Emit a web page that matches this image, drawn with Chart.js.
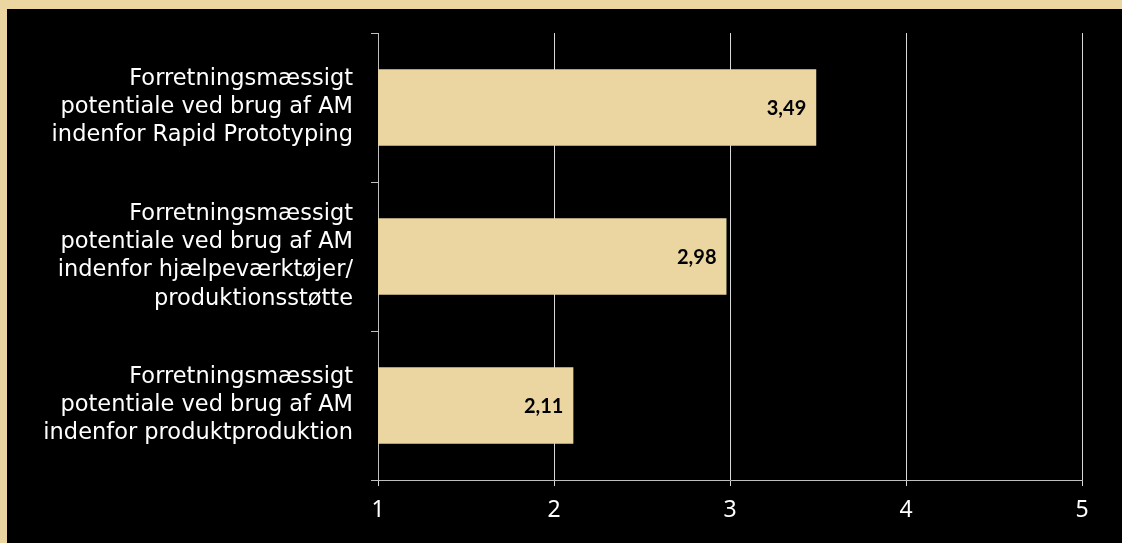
<!DOCTYPE html>
<html>
<head>
<meta charset="utf-8">
<script src="https://cdn.jsdelivr.net/npm/chart.js@4"></script>
<style>
  html, body { margin: 0; padding: 0; background: #ebd6a2; }
  #wrap { position: absolute; left: 7px; top: 9px; width: 1115px; height: 534px; background: #000; }
</style>
</head>
<body>
<div id="wrap"><canvas id="potentiale" width="1115" height="534"></canvas></div>
<script>
//Data
const kategorier = [
  ['Forretningsmæssigt', 'potentiale ved brug af AM', 'indenfor Rapid Prototyping'],
  ['Forretningsmæssigt', 'potentiale ved brug af AM', 'indenfor hjælpeværktøjer/', 'produktionsstøtte'],
  ['Forretningsmæssigt', 'potentiale ved brug af AM', 'indenfor produktproduktion']
];
const vaerdier = [3.49, 2.98, 2.11];
const akseMin = 1;
const akseMax = 5;

const beige = '#ebd6a2';
const skrift = '"DejaVu Sans", "Open Sans", sans-serif';
const skriftTal = '"Noto Sans", "Open Sans", sans-serif';
const skriftFed = 'Lato, "DejaVu Sans", sans-serif';

//Tal inde i soejlerne
const vaerdiLabels = {
  id: 'vaerdiLabels',
  afterDatasetsDraw(chart) {
    const ctx = chart.ctx;
    const meta = chart.getDatasetMeta(0);
    ctx.save();
    ctx.font = 'bold 20px ' + skriftFed;
    ctx.fillStyle = '#000';
    ctx.textAlign = 'right';
    ctx.textBaseline = 'middle';
    meta.data.forEach((bar, i) => {
      const txt = vaerdier[i].toFixed(2).replace('.', ',');
      ctx.fillText(txt, bar.x - 10, bar.y + 1);
    });
    ctx.restore();
  }
};

const potentiale = document.getElementById('potentiale');

let potentiale_OBJ = new Chart(potentiale, {
  type: 'bar',
  data: {
    labels: kategorier,
    datasets: [{
      data: vaerdier,
      backgroundColor: beige,
      borderWidth: 0,
      barPercentage: 0.515,
      categoryPercentage: 1
    }]
  },
  plugins: [vaerdiLabels],
  options: {
    indexAxis: 'y',
    responsive: false,
    animation: false,
    layout: { padding: { top: 24, right: 40, left: 0, bottom: 0 } },
    plugins: {
      legend: { display: false },
      tooltip: { enabled: false }
    },
    scales: {
      x: {
        min: akseMin,
        max: akseMax,
        ticks: {
          stepSize: 1,
          color: '#fff',
          padding: 11,
          font: { family: skriftTal, size: 23 }
        },
        grid: {
          color: '#d9d9d9',
          lineWidth: 1,
          tickLength: 6,
          drawTicks: true
        },
        border: { display: true, color: '#bfbfbf', width: 1 },
        afterFit(scale) { scale.height = 63; }
      },
      y: {
        offset: true,
        ticks: {
          color: '#fff',
          padding: 18,
          font: { family: skrift, size: 22.5, lineHeight: 1.25 }
        },
        grid: {
          offset: true,
          drawOnChartArea: false,
          tickLength: 7,
          color: '#bfbfbf'
        },
        border: { display: true, color: '#bfbfbf', width: 1 },
        afterFit(scale) {
          scale.width = 371;
          scale.paddingTop = 0;
          scale.paddingBottom = 0;
        }
      }
    }
  }
});
</script>
</body>
</html>
